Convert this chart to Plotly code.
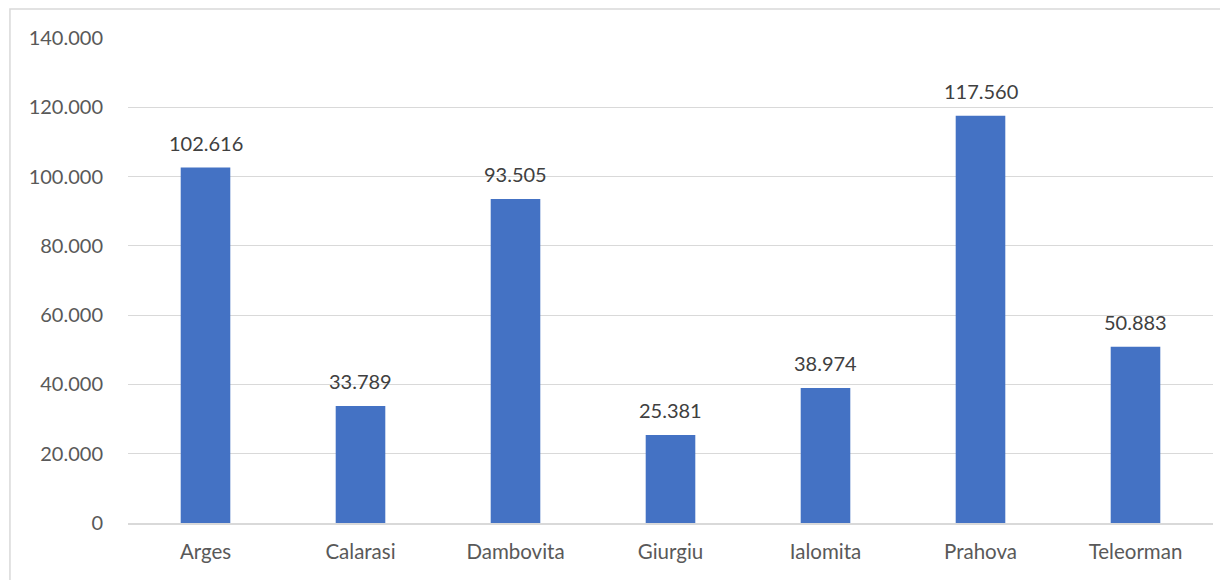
import plotly.graph_objects as go

categories = ["Arges", "Calarasi", "Dambovita", "Giurgiu", "Ialomita", "Prahova", "Teleorman"]
values = [102616, 33789, 93505, 25381, 38974, 117560, 50883]
tick_vals = [0, 20000, 40000, 60000, 80000, 100000, 120000, 140000]
tick_text = ["0", "20.000", "40.000", "60.000", "80.000", "100.000", "120.000", "140.000"]
value_labels = [f"{v:,}".replace(",", ".") for v in values]

fig = go.Figure(go.Bar(
    x=categories, y=values,
    marker=dict(color="#4472C4", line=dict(width=0)),
    cliponaxis=False,
))

annotations = [
    dict(x=c, y=v, xref="x", yref="y", text=t, showarrow=False,
         yanchor="middle", yshift=25,
         font=dict(family="Lato", size=20, color="#404040"))
    for c, v, t in zip(categories, values, value_labels)
]

fig.update_layout(
    width=1220, height=572,
    margin=dict(l=120, r=15, t=30, b=57),
    paper_bgcolor="white", plot_bgcolor="white",
    bargap=0.68,
    showlegend=False,
    font=dict(family="Lato", size=20, color="#595959"),
    xaxis=dict(showgrid=False, showline=True, linecolor="#D9D9D9", linewidth=1.5,
               ticks="", ticklabelstandoff=10,
               tickfont=dict(size=20.5, color="#595959")),
    yaxis=dict(range=[0, 140000], tickvals=tick_vals, ticktext=tick_text,
               showgrid=True, gridcolor="#D9D9D9", gridwidth=1.2, zeroline=False,
               showline=False, ticks="", ticklabelstandoff=24,
               tickfont=dict(size=20, color="#595959")),
    annotations=annotations,
    shapes=[dict(type="rect", xref="paper", yref="paper",
                 x0=-0.1088, x1=1.0111, y0=-0.2, y1=1.0598,
                 line=dict(color="#D9D9D9", width=1.5), fillcolor="rgba(0,0,0,0)",
                 layer="below")],
)

fig.write_html("out.html")
